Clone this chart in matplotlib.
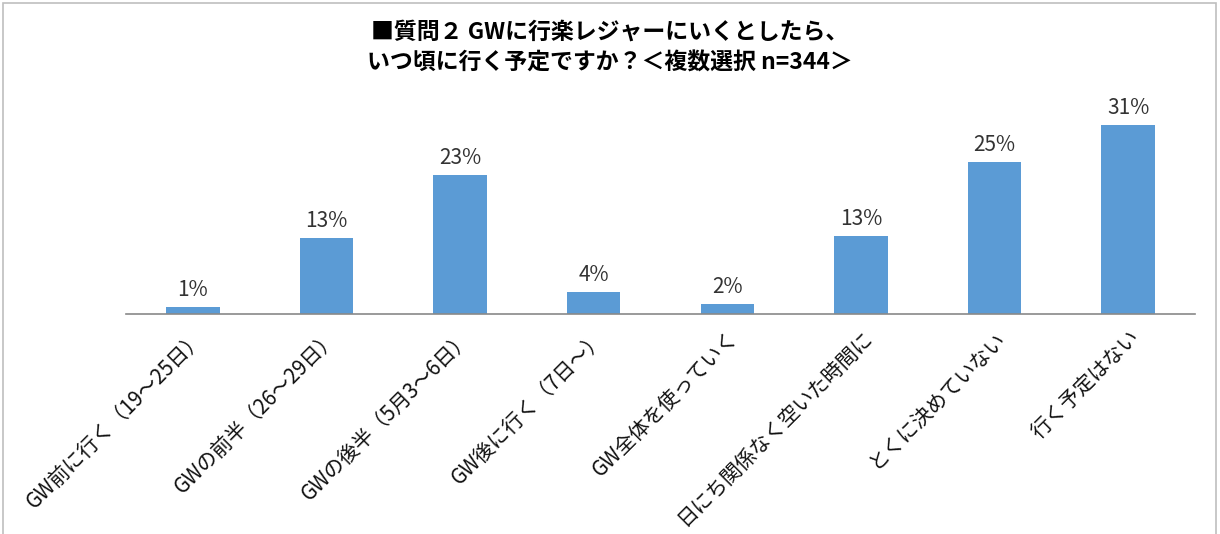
import matplotlib.pyplot as plt
from matplotlib.patches import Rectangle

plt.rcParams['font.family'] = ['Noto Sans CJK JP', 'DejaVu Sans']

categories = ['GW前に行く（19～25日）', 'GWの前半（26～29日）', 'GWの後半（5月3～6日）',
              'GW後に行く（7日～）', 'GW全体を使っていく', '日にち関係なく空いた時間に',
              'とくに決めていない', '行く予定はない']
values = [1.2, 12.4, 22.7, 3.6, 1.7, 12.7, 24.9, 31.0]
labels = ['1%', '13%', '23%', '4%', '2%', '13%', '25%', '31%']

fig = plt.figure(figsize=(12.2, 5.34), dpi=100)
fig.patches.append(Rectangle((3/1220, -0.05), 1213/1220, 1.044, transform=fig.transFigure,
                             fill=False, edgecolor='#BFBFBF', linewidth=1.2))
ax = fig.add_axes([126/1220, 1 - 314/534, 1069/1220, 0.4])

x = range(len(categories))
ax.bar(x, values, width=0.4, color='#5B9BD5')
for i, v in enumerate(values):
    ax.text(i, v + 1.0, labels[i], ha='center', va='bottom', fontsize=15, color='#333333')

ax.set_xlim(-0.5, len(categories) - 0.5)
ax.set_ylim(0, 35)
ax.set_yticks([])
for s in ['top', 'right', 'left']:
    ax.spines[s].set_visible(False)
ax.spines['bottom'].set_color('#898989')
ax.spines['bottom'].set_linewidth(1.2)
ax.set_xticks(list(x))
ax.set_xticklabels(categories, rotation=45, ha='right', rotation_mode='anchor',
                   fontsize=14.8, color='#111111')
ax.tick_params(axis='x', length=0, pad=9)

fig.text(0.5, 1 - 32/534, '■質問２ GWに行楽レジャーにいくとしたら、', ha='center', va='center',
         fontsize=16.5, fontweight='bold')
fig.text(0.5, 1 - 63/534, 'いつ頃に行く予定ですか？＜複数選択 n=344＞', ha='center', va='center',
         fontsize=16.5, fontweight='bold')

fig.savefig('out.png', dpi=100, facecolor='white')
